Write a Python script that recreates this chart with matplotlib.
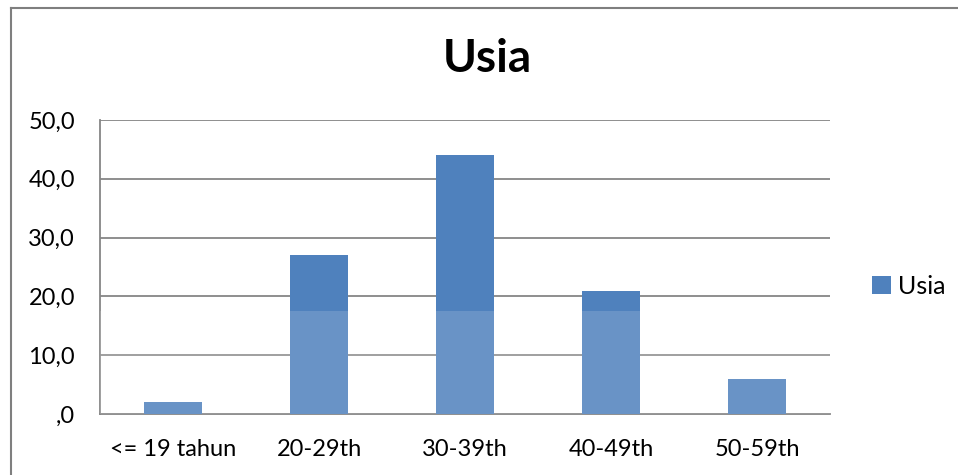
import matplotlib
matplotlib.use("Agg")
import matplotlib.pyplot as plt
from matplotlib.lines import Line2D
from matplotlib.patches import Patch

# data
categories = ["<= 19 tahun", "20-29th", "30-39th", "40-49th", "50-59th"]
values = [2.0, 27.0, 44.0, 21.0, 6.0]
yticks = [0, 10, 20, 30, 40, 50]
ytick_labels = [",0", "10,0", "20,0", "30,0", "40,0", "50,0"]

plt.rcParams['font.family'] = ['Lato', 'DejaVu Sans']

fig = plt.figure(figsize=(9.58, 4.75), dpi=100)
ax = fig.add_axes([100 / 958, 61 / 475, 730 / 958, 294 / 475])

bar_color = '#4F81BD'
grid_color = '#868686'

x = range(len(categories))
ax.bar(x, values, width=0.40, color=bar_color, zorder=3, edgecolor='none')

# lighter lower band from the scan watermark
ax.axhspan(0, 17.6, color='white', alpha=0.15, zorder=4, lw=0)

ax.set_xlim(-0.5, len(categories) - 0.5)
ax.set_ylim(0, 50)
ax.set_yticks(yticks)
ax.set_yticklabels(ytick_labels)
ax.set_xticks(list(x))
ax.set_xticklabels(categories)
ax.tick_params(length=0, labelsize=17, colors='black')
ax.tick_params(axis='y', pad=18)
ax.tick_params(axis='x', pad=18)

ax.yaxis.grid(True, color=grid_color, linewidth=1.3, zorder=0)
for side in ['top', 'right']:
    ax.spines[side].set_visible(False)
for side in ['left', 'bottom']:
    ax.spines[side].set_color(grid_color)
    ax.spines[side].set_linewidth(1.3)

fig.text(487 / 958, 1 - 59 / 475, "Usia", ha='center', va='center',
         fontsize=33, fontweight='bold')

handle = Patch(facecolor=bar_color, edgecolor='none')
fig.legend([handle], ["Usia"], loc='center left',
           bbox_to_anchor=(872 / 958, 1 - 286 / 475), frameon=False,
           borderpad=0, borderaxespad=0,
           fontsize=18, handlelength=0.75, handleheight=0.75, handletextpad=0.3)

# outer chart frame (cropped at right and bottom)
frame_kw = dict(color='#7F7F7F', linewidth=1.5, transform=fig.transFigure)
fig.add_artist(Line2D([11 / 958, 1], [1 - 7.5 / 475, 1 - 7.5 / 475], **frame_kw))
fig.add_artist(Line2D([11 / 958, 11 / 958], [0, 1 - 7.5 / 475], **frame_kw))

fig.savefig('out.png', dpi=100)
